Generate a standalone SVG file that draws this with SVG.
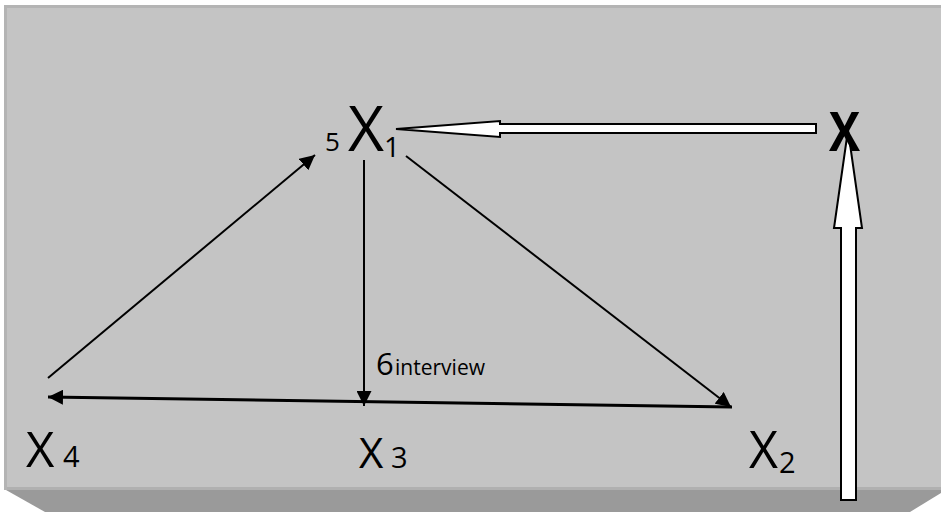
<svg xmlns="http://www.w3.org/2000/svg" width="941" height="512" viewBox="0 0 941 512">
<style>
.t{font-family:"Open Sans","Liberation Sans",sans-serif;fill:#000}
.ln{stroke:#000;stroke-width:2;fill:none}
.big{fill:#fff;stroke:#000;stroke-width:2;stroke-linejoin:miter}
</style>
<defs>
<marker id="ah2" viewBox="0 0 10 10" refX="10" refY="5" markerWidth="15" markerHeight="15" markerUnits="userSpaceOnUse" orient="auto">
<path d="M0,0 L10,5 L0,10 z" fill="#000"/>
</marker>
</defs>
<rect x="0" y="0" width="941" height="512" fill="#fff"/>
<rect x="4" y="5" width="937" height="485" fill="#b4b4b4"/>
<rect x="7" y="8" width="934" height="480" fill="#c4c4c4"/>
<rect x="7" y="487" width="934" height="3" fill="#b0b0b0"/>
<polygon points="6,490 941,490 941,493 910,512 45,512" fill="#9a9a9a"/>

<g id="connectors">
<line class="ln" x1="48" y1="378" x2="315" y2="155" marker-end="url(#ah2)"/>
<line class="ln" x1="364" y1="160" x2="364" y2="406" marker-end="url(#ah2)"/>
<line class="ln" x1="406" y1="156" x2="731" y2="407" marker-end="url(#ah2)"/>
<line x1="732" y1="407" x2="48" y2="397" stroke="#000" stroke-width="3" marker-end="url(#ah2)"/>
<polygon class="big" points="816,124 500,124 500,121 396,129 500,137 500,133 816,133"/>
<polygon class="big" points="841,500 841,228 834,228 848,130 862,228 856,228 856,500"/>
</g>

<g id="X1">
<text class="t" x="325" y="151" font-size="26">5</text>
<text class="t" x="348" y="151" font-size="62" textLength="36" lengthAdjust="spacingAndGlyphs">X</text>
<text class="t" x="384" y="157" font-size="28">1</text>
</g>
<g id="X">
<text class="t" x="829" y="151" font-size="53" font-weight="bold" textLength="31" lengthAdjust="spacingAndGlyphs">X</text>
</g>
<g id="X4">
<text class="t" x="26" y="467" font-size="49">X</text>
<text class="t" x="63" y="467" font-size="29">4</text>
</g>
<g id="X3">
<text class="t" x="359" y="468" font-size="42">X</text>
<text class="t" x="391" y="468" font-size="29">3</text>
</g>
<g id="X2">
<text class="t" x="749" y="468" font-size="52" textLength="29" lengthAdjust="spacingAndGlyphs">X</text>
<text class="t" x="779" y="473" font-size="29">2</text>
</g>
<g id="label6">
<text class="t" x="376" y="375" font-size="31">6</text>
<text class="t" x="395" y="375" font-size="21" textLength="90" lengthAdjust="spacingAndGlyphs">interview</text>
</g>
</svg>
